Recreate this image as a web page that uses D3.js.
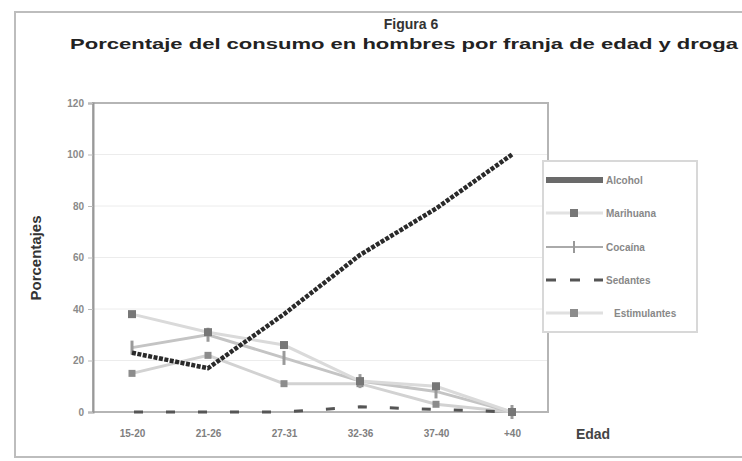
<!DOCTYPE html>
<html>
<head>
<meta charset="utf-8">
<script src="https://cdn.jsdelivr.net/npm/d3@7"></script>
<style>
html,body{margin:0;padding:0;background:#fff;}
svg{display:block;font-family:"Liberation Sans",Arial,sans-serif;}
</style>
</head>
<body>
<svg id="chart" width="742" height="461"></svg>
<script>
const categories = ["15-20", "21-26", "27-31", "32-36", "37-40", "+40"];
const yTicks = [0, 20, 40, 60, 80, 100, 120];
const seriesNames = ["Alcohol", "Marihuana", "Cocaína", "Sedantes", "Estimulantes"];
const alcohol = [23, 17, 38, 61, 79, 100];
const marihuana = [38, 31, 26, 12, 10, 0];
const cocaina = [25, 30, 21, 12, 8, 0];
const sedantes = [0, 0, 0, 2, 1, 0];
const estimulantes = [15, 22, 11, 11, 3, 0];
const title = "Figura 6";
const subtitle = "Porcentaje del consumo en hombres por franja de edad y droga";
const yTitle = "Porcentajes";
const xTitle = "Edad";

const svg = d3.select("#chart");

// outer frame
svg.append("rect").attr("x", 15).attr("y", 12).attr("width", 740).attr("height", 445)
  .attr("fill", "#fff").attr("stroke", "#bdbdbd").attr("stroke-width", 2);

const plot = {left: 93, right: 548, top: 103, bottom: 412};
const x = d3.scalePoint().domain(categories).range([132, 512]);
const y = d3.scaleLinear().domain([0, 120]).range([plot.bottom, plot.top]);

// gridlines
svg.append("g").selectAll("line").data(yTicks.filter(d => d > 0 && d < 120)).join("line")
  .attr("x1", plot.left).attr("x2", plot.right)
  .attr("y1", d => y(d)).attr("y2", d => y(d))
  .attr("stroke", "#ececec").attr("stroke-width", 1);

// plot border
svg.append("rect").attr("x", plot.left).attr("y", plot.top)
  .attr("width", plot.right - plot.left).attr("height", plot.bottom - plot.top)
  .attr("fill", "none").attr("stroke", "#b5b5b5").attr("stroke-width", 2);

// y axis
const yAxis = d3.axisLeft(y).tickValues(yTicks).tickSize(5).tickPadding(4);
const gy = svg.append("g").attr("transform", `translate(${plot.left},0)`).call(yAxis);
gy.select(".domain").attr("stroke", "#999").attr("stroke-width", 2);
gy.selectAll(".tick line").attr("stroke", "#bbb");
gy.selectAll(".tick text").attr("fill", "#8a8a8a").attr("font-size", 10).attr("font-weight", "bold");

// x axis
const xAxis = d3.axisBottom(x).tickSize(0).tickPadding(18);
const gx = svg.append("g").attr("transform", `translate(0,${plot.bottom})`).call(xAxis);
gx.select(".domain").remove();
gx.selectAll(".tick text").attr("fill", "#808080").attr("font-size", 10).attr("font-weight", "bold");

const line = d3.line().x((d, i) => x(categories[i])).y(d => y(d));

// Estimulantes
svg.append("path").datum(estimulantes).attr("d", line)
  .attr("fill", "none").attr("stroke", "#d2d2d2").attr("stroke-width", 3);
svg.append("g").selectAll("rect").data(estimulantes).join("rect")
  .attr("x", (d, i) => x(categories[i]) - 3.5).attr("y", d => y(d) - 3.5)
  .attr("width", 7).attr("height", 7).attr("fill", "#8c8c8c");

// Cocaína
svg.append("path").datum(cocaina).attr("d", line)
  .attr("fill", "none").attr("stroke", "#c4c4c4").attr("stroke-width", 3);
svg.append("g").selectAll("line").data(cocaina).join("line")
  .attr("x1", (d, i) => x(categories[i])).attr("x2", (d, i) => x(categories[i]))
  .attr("y1", d => y(d) - 7).attr("y2", d => y(d) + 7)
  .attr("stroke", "#9a9a9a").attr("stroke-width", 3);

// Marihuana
svg.append("path").datum(marihuana).attr("d", line)
  .attr("fill", "none").attr("stroke", "#dadada").attr("stroke-width", 3);
svg.append("g").selectAll("rect").data(marihuana).join("rect")
  .attr("x", (d, i) => x(categories[i]) - 4).attr("y", d => y(d) - 4)
  .attr("width", 8).attr("height", 8).attr("fill", "#777");

// Sedantes
svg.append("path").datum(sedantes).attr("d", line)
  .attr("fill", "none").attr("stroke", "#555").attr("stroke-width", 3)
  .attr("stroke-dasharray", "9,23").attr("stroke-dashoffset", -2);

// Alcohol
svg.append("path").datum(alcohol).attr("d", line)
  .attr("fill", "none").attr("stroke", "#2a2a2a").attr("stroke-width", 4.5)
  .attr("stroke-dasharray", "4,1.5");

// Legend
const lg = svg.append("g");
lg.append("rect").attr("x", 543).attr("y", 161).attr("width", 154).attr("height", 171)
  .attr("fill", "#fff").attr("stroke", "#d8d8d8").attr("stroke-width", 2);
const legendY = [180, 213, 247, 280, 313];
const items = seriesNames.map((n, i) => ({name: n, y: legendY[i], i}));
const li = lg.selectAll("g.item").data(items).join("g").attr("class", "item");
li.each(function(d) {
  const g = d3.select(this);
  if (d.i === 0) {
    g.append("line").attr("x1", 546).attr("x2", 603).attr("y1", d.y).attr("y2", d.y)
      .attr("stroke", "#6a6a6a").attr("stroke-width", 6);
  } else if (d.i === 1) {
    g.append("line").attr("x1", 546).attr("x2", 603).attr("y1", d.y).attr("y2", d.y)
      .attr("stroke", "#e2e2e2").attr("stroke-width", 3);
    g.append("rect").attr("x", 570).attr("y", d.y - 4).attr("width", 8).attr("height", 8).attr("fill", "#777");
  } else if (d.i === 2) {
    g.append("line").attr("x1", 546).attr("x2", 603).attr("y1", d.y).attr("y2", d.y)
      .attr("stroke", "#aaa").attr("stroke-width", 2);
    g.append("line").attr("x1", 574).attr("x2", 574).attr("y1", d.y - 6).attr("y2", d.y + 6)
      .attr("stroke", "#999").attr("stroke-width", 2);
  } else if (d.i === 3) {
    g.append("line").attr("x1", 546).attr("x2", 603).attr("y1", d.y).attr("y2", d.y)
      .attr("stroke", "#555").attr("stroke-width", 3).attr("stroke-dasharray", "10,14");
  } else {
    g.append("line").attr("x1", 546).attr("x2", 603).attr("y1", d.y).attr("y2", d.y)
      .attr("stroke", "#e0e0e0").attr("stroke-width", 3);
    g.append("rect").attr("x", 570).attr("y", d.y - 4).attr("width", 8).attr("height", 8).attr("fill", "#8c8c8c");
  }
  g.append("text").attr("x", d.i === 4 ? 614 : 606).attr("y", d.y + 4)
    .attr("font-size", 10).attr("fill", "#888").attr("font-weight", "bold").text(d.name);
});

// Titles
svg.append("text").attr("x", 411).attr("y", 29).attr("text-anchor", "middle")
  .attr("font-size", 14).attr("font-weight", "bold").attr("fill", "#333").text(title);
svg.append("text").attr("x", 70).attr("y", 49)
  .attr("font-size", 15).attr("font-weight", "bold").attr("fill", "#222")
  .attr("textLength", 668).attr("lengthAdjust", "spacingAndGlyphs").text(subtitle);
svg.append("text").attr("transform", "translate(41,258) rotate(-90)").attr("text-anchor", "middle")
  .attr("font-size", 15).attr("font-weight", "bold").attr("fill", "#333").text(yTitle);
svg.append("text").attr("x", 593).attr("y", 439).attr("text-anchor", "middle")
  .attr("font-size", 14).attr("font-weight", "bold").attr("fill", "#444").text(xTitle);
</script>
</body>
</html>
